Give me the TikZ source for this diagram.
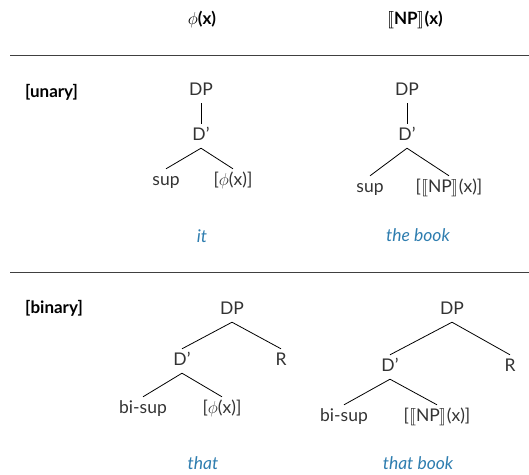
\documentclass[tikz,border=0pt]{standalone}
\usepackage{fontspec}
\usepackage{stmaryrd}
\setmainfont{Lato}
\definecolor{txt}{HTML}{333333}
\definecolor{ex}{HTML}{2E7DAF}
\begin{document}
\begin{tikzpicture}[x=1pt,y=-1pt,
  lab/.style={font=\fontsize{17.5}{20}\selectfont, text=txt, inner xsep=1pt, inner ysep=4pt, text height=12.5pt, text depth=3.5pt},
  hdr/.style={font=\fontsize{17}{20}\selectfont\bfseries, text=black, inner sep=2pt},
  exmp/.style={font=\fontsize{17.5}{20}\selectfont\itshape, text=ex, inner sep=2pt},
  edge/.style={draw=black, line width=0.8pt},
  rule/.style={draw=black!75, line width=1pt}]
\useasboundingbox (0,0) rectangle (529,474);
% headers
\node[hdr] (h1) at (202,20) {$\phi$(x)};
\node[hdr] (h2) at (415,20) {$\llbracket$NP$\rrbracket$(x)};
\coordinate (r1a) at (10,55);
\coordinate (r1b) at (529,55);
\draw[rule] (r1a) -- (r1b);
\coordinate (r2a) at (10,272);
\coordinate (r2b) at (529,272);
\draw[rule] (r2a) -- (r2b);
\node[hdr, anchor=west] (un) at (23,92) {[unary]};
\node[hdr, anchor=west] (bi) at (23,308) {[binary]};
% tree 1
\node[lab] (a1) at (201,91) {DP};
\node[lab] (a2) at (201,136) {D’};
\node[lab] (a3) at (166,181) {sup};
\node[lab] (a4) at (233,181) {[$\phi$(x)]};
\draw[edge] (a1.south) -- (a2.north);
\draw[edge] (a2.south) -- (a3.north);
\draw[edge] (a2.south) -- (a4.north);
\node[exmp] (e1) at (202,236) {it};
% tree 2
\node[lab] (b1) at (407,91) {DP};
\node[lab] (b2) at (407,136) {D’};
\node[lab] (b3) at (370,188) {sup};
\node[lab] (b4) at (449,188) {[$\llbracket$NP$\rrbracket$(x)]};
\draw[edge] (b1.south) -- (b2.north);
\draw[edge] (b2.south) -- (b3.north);
\draw[edge] (b2.south) -- (b4.north);
\node[exmp] (e2) at (418,235) {the book};
% tree 3
\node[lab] (c1) at (232,310) {DP};
\node[lab] (c2) at (182,361) {D’};
\node[lab] (c3) at (281,361) {R};
\node[lab] (c4) at (143,409) {bi-sup};
\node[lab] (c5) at (222,409) {[$\phi$(x)]};
\draw[edge] (c1.south) -- (c2.north);
\draw[edge] (c1.south) -- (c3.north);
\draw[edge] (c2.south) -- (c4.north);
\draw[edge] (c2.south) -- (c5.north);
\node[exmp] (e3) at (203,463) {that};
% tree 4
\node[lab] (d1) at (452,310) {DP};
\node[lab] (d2) at (390,367) {D’};
\node[lab] (d3) at (510,367) {R};
\node[lab] (d4) at (344,417) {bi-sup};
\node[lab] (d5) at (437,417) {[$\llbracket$NP$\rrbracket$(x)]};
\draw[edge] (d1.south) -- (d2.north);
\draw[edge] (d1.south) -- (d3.north);
\draw[edge] (d2.south) -- (d4.north);
\draw[edge] (d2.south) -- (d5.north);
\node[exmp] (e4) at (418,463) {that book};
\end{tikzpicture}
\end{document}
